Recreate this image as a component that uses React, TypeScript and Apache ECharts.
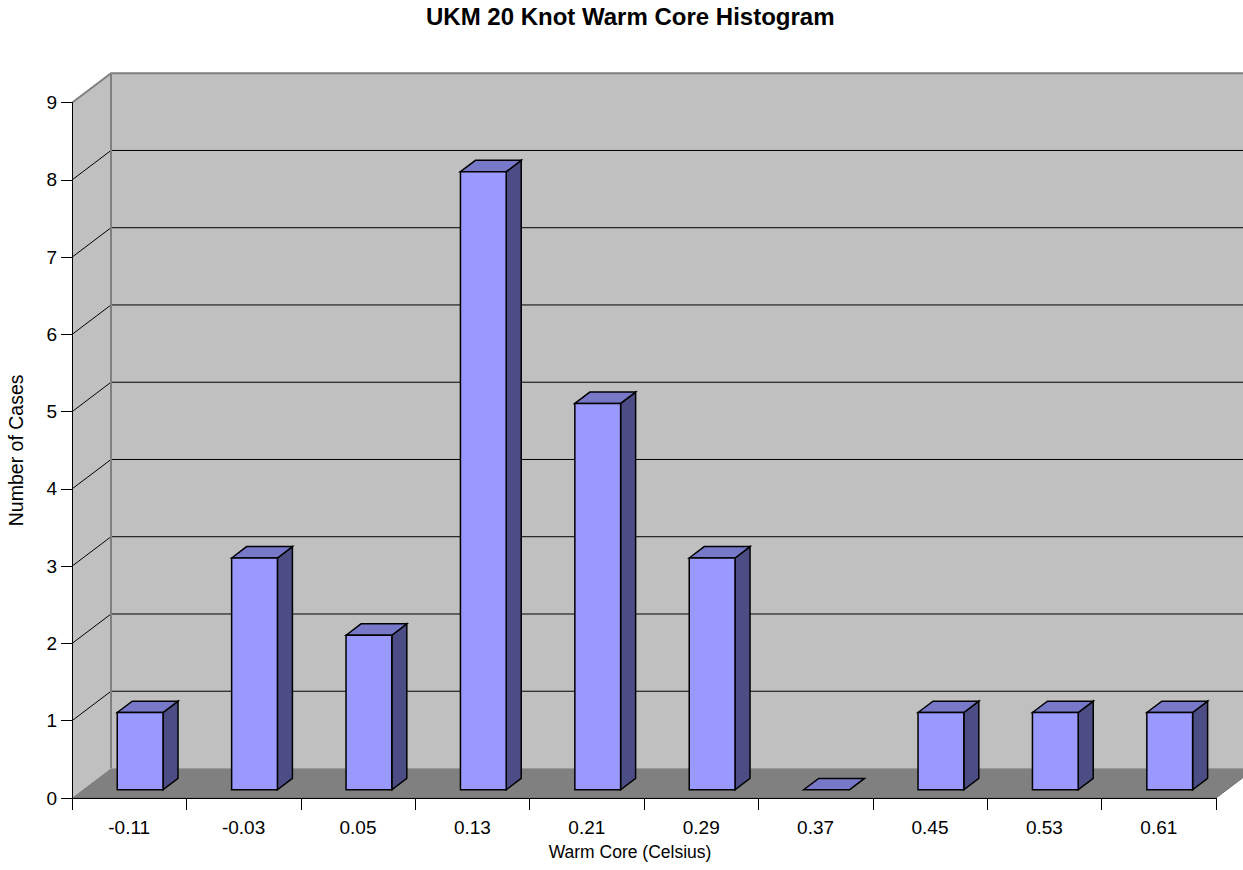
import React, { useEffect, useRef } from "react";
import * as echarts from "echarts";

const categories = ["-0.11", "-0.03", "0.05", "0.13", "0.21", "0.29", "0.37", "0.45", "0.53", "0.61"];
const counts = [1, 3, 2, 8, 5, 3, 0, 1, 1, 1];
const yMax = 9;
const yInterval = 1;
const titleText = "UKM 20 Knot Warm Core Histogram";
const xName = "Warm Core (Celsius)";
const yName = "Number of Cases";

const FONT = "'Liberation Sans', Arial, Helvetica, sans-serif";
const DX = 39;
const DY = -29.5;
const BAR_FRONT = 0.28;
const BAR_DEPTH = 0.385;
const BAR_W = 0.4;

export default function App() {
  const ref = useRef<HTMLDivElement>(null);
  useEffect(() => {
    if (!ref.current) return;
    const chart = echarts.init(ref.current, undefined, { renderer: "svg" });

    const wallItem = (params: any, api: any) => {
      const cs = params.coordSys;
      const L = cs.x, R = cs.x + cs.width, T = cs.y, B = cs.y + cs.height;
      const yOf = (v: number) => api.coord([0, v])[1];
      const children: any[] = [];
      children.push({
        type: "polygon",
        shape: { points: [[L, B], [L + DX, B + DY], [R + DX, B + DY], [R, B]] },
        style: { fill: "#808080", stroke: "#6a6a6a", lineWidth: 1 },
      });
      children.push({
        type: "rect",
        shape: { x: L + DX, y: T + DY, width: R - L + 10, height: B - T },
        style: { fill: "#C0C0C0" },
      });
      children.push({
        type: "polygon",
        shape: { points: [[L, T], [L + DX, T + DY], [L + DX, B + DY], [L, B]] },
        style: { fill: "#C0C0C0" },
      });
      for (let v = yInterval; v < yMax; v += yInterval) {
        const y = yOf(v);
        children.push({
          type: "polyline",
          shape: { points: [[L, y], [L + DX, y + DY], [R + DX + 10, y + DY]] },
          style: { stroke: "#000", lineWidth: 1, fill: null },
        });
      }
      children.push({
        type: "polyline",
        shape: { points: [[L, T], [L + DX, T + DY], [R + DX + 10, T + DY]] },
        style: { stroke: "#808080", lineWidth: 2, fill: null },
      });
      children.push({
        type: "line",
        shape: { x1: L + DX, y1: T + DY, x2: L + DX, y2: B + DY },
        style: { stroke: "#808080", lineWidth: 2 },
      });
      children.push({
        type: "line",
        shape: { x1: L + DX, y1: B + DY, x2: R + DX + 10, y2: B + DY },
        style: { stroke: "#9a9a9a", lineWidth: 1 },
      });
      return { type: "group", children };
    };

    const barItem = (params: any, api: any) => {
      const i = api.value(0);
      const v = api.value(1);
      const top = api.coord([i, v]);
      const base = api.coord([i, 0]);
      const bw = api.size([1, 0])[0];
      const w = bw * BAR_W;
      const x0 = top[0] - w / 2 + DX * BAR_FRONT;
      const x1 = x0 + w;
      const yt = top[1] + DY * BAR_FRONT;
      const yb = base[1] + DY * BAR_FRONT;
      const bdx = DX * BAR_DEPTH;
      const bdy = DY * BAR_DEPTH;
      const st = { stroke: "#000", lineWidth: 1.5, lineJoin: "miter" };
      const children: any[] = [];
      children.push({
        type: "polygon",
        shape: { points: [[x1, yt], [x1 + bdx, yt + bdy], [x1 + bdx, yb + bdy], [x1, yb]] },
        style: { fill: "#4D4D85", ...st },
      });
      children.push({
        type: "polygon",
        shape: { points: [[x0, yt], [x0 + bdx, yt + bdy], [x1 + bdx, yt + bdy], [x1, yt]] },
        style: { fill: "#7878C8", ...st },
      });
      if (v > 0) {
        children.push({
          type: "rect",
          shape: { x: x0, y: yt, width: w, height: yb - yt },
          style: { fill: "#9999FF", ...st },
        });
      }
      return { type: "group", children };
    };

    chart.setOption({
      animation: false,
      backgroundColor: "#ffffff",
      title: {
        text: titleText,
        left: 426,
        top: 4,
        padding: 0,
        textStyle: { fontFamily: FONT, fontSize: 24, fontWeight: "bold", color: "#000" },
      },
      grid: { left: 72, right: 27, top: 102.7, bottom: 72, containLabel: false, outerBoundsMode: "none" },
      xAxis: {
        type: "category",
        data: categories,
        name: xName,
        nameLocation: "middle",
        nameGap: 45,
        nameTextStyle: { fontFamily: FONT, fontSize: 17.5, color: "#000", padding: [0, 28, 0, 0] },
        axisLine: { show: true, lineStyle: { color: "#000", width: 1 } },
        axisTick: { show: true, length: 12, lineStyle: { color: "#000" } },
        axisLabel: { fontFamily: FONT, fontSize: 19, color: "#000", margin: 20 },
        splitLine: { show: false },
        z: 3,
      },
      yAxis: {
        type: "value",
        min: 0,
        max: yMax,
        interval: yInterval,
        name: yName,
        nameLocation: "middle",
        nameGap: 46,
        nameRotate: 90,
        nameTextStyle: { fontFamily: FONT, fontSize: 19.5, color: "#000" },
        axisLine: { show: true, lineStyle: { color: "#000", width: 1 } },
        axisTick: { show: true, length: 11, lineStyle: { color: "#000" } },
        axisLabel: { fontFamily: FONT, fontSize: 19, color: "#000", margin: 15 },
        splitLine: { show: false },
        z: 3,
      },
      series: [
        {
          type: "custom",
          silent: true,
          clip: false,
          z: 1,
          renderItem: wallItem,
          data: [[0, 0]],
          encode: { x: 0, y: 1 },
        },
        {
          type: "custom",
          silent: true,
          clip: false,
          z: 4,
          renderItem: barItem,
          data: counts.map((v, i) => [i, v]),
          encode: { x: 0, y: 1 },
        },
      ],
    });
    return () => chart.dispose();
  }, []);
  return (
    <div
      ref={ref}
      style={{ position: "fixed", left: 0, top: 0, width: 1243, height: 870, background: "#fff" }}
    />
  );
}
